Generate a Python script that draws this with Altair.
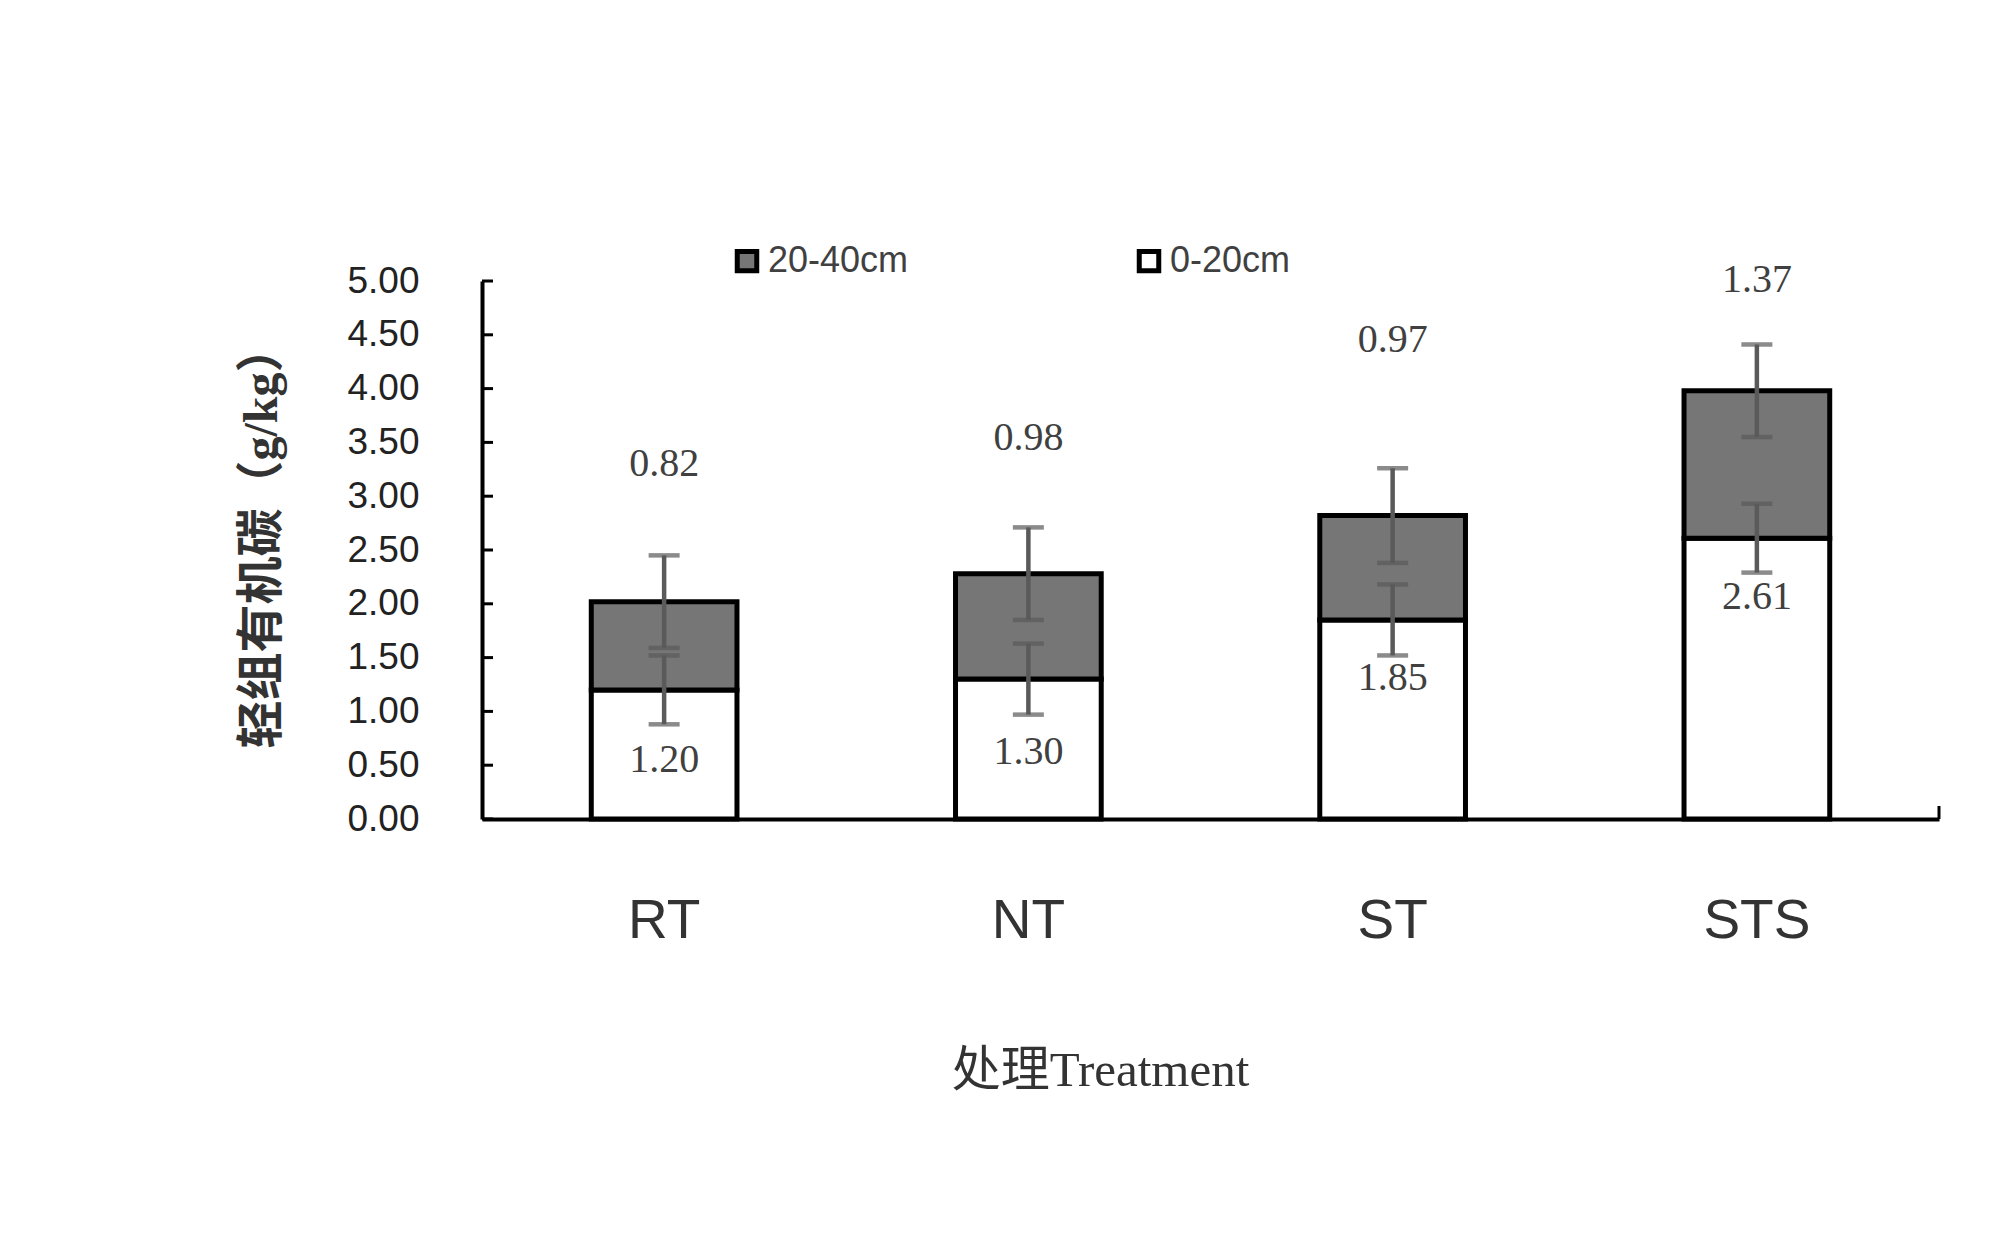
import altair as alt
import pandas as pd

# ---- data ----
categories = ["RT", "NT", "ST", "STS"]
series = ["20-40cm", "0-20cm"]
v_0_20 = [1.20, 1.30, 1.85, 2.61]
v_20_40 = [0.82, 0.98, 0.97, 1.37]
err_0_20 = [0.32, 0.33, 0.33, 0.32]
err_20_40 = [0.43, 0.43, 0.44, 0.43]
label_top_y = [3.30, 3.54, 4.45, 5.01]     # where the 20-40cm value labels sit
label_bottom_y = [0.55, 0.62, 1.31, 2.06]  # where the 0-20cm value labels sit
y_ticks = [0.0, 0.5, 1.0, 1.5, 2.0, 2.5, 3.0, 3.5, 4.0, 4.5, 5.0]

W, H = 1457, 538

# ---- tables ----
bar_rows = []
for c, a, b in zip(categories, v_0_20, v_20_40):
    bar_rows.append({"cat": c, "layer": "0-20cm", "value": a, "ord": 0})
    bar_rows.append({"cat": c, "layer": "20-40cm", "value": b, "ord": 1})
bars_df = pd.DataFrame(bar_rows)

err_rows, cap_rows = [], []
for c, a, b, ea, eb in zip(categories, v_0_20, v_20_40, err_0_20, err_20_40):
    for center, e in ((a, ea), (a + b, eb)):
        err_rows.append({"cat": c, "lo": center - e, "hi": center + e})
        cap_rows.append({"cat": c, "y": center - e})
        cap_rows.append({"cat": c, "y": center + e})
err_df = pd.DataFrame(err_rows)
cap_df = pd.DataFrame(cap_rows)

lab_rows = []
for c, a, b, ty, by in zip(categories, v_0_20, v_20_40, label_top_y, label_bottom_y):
    lab_rows.append({"cat": c, "y": ty, "txt": f"{b:.2f}"})
    lab_rows.append({"cat": c, "y": by, "txt": f"{a:.2f}"})
lab_df = pd.DataFrame(lab_rows)

tick_df = pd.DataFrame({"t": y_ticks})

SANS = "Liberation Sans, Arial, sans-serif"
SERIF_CJK = "Liberation Serif, Noto Sans CJK SC, serif"

xaxis = alt.Axis(
    labelAngle=0, ticks=False, domainColor="black", domainWidth=4,
    labelFont=SANS, labelFontSize=55, labelColor="#333333", labelPadding=75,
    title="处理Treatment", titleFont=SERIF_CJK, titleFontSize=49,
    titleFontWeight="normal", titleColor="#333333",
    titleX=618, titleY=266, titleBaseline="alphabetic", titleAlign="center",
)
yaxis = alt.Axis(
    values=y_ticks, format=".2f", ticks=False, grid=False,
    domainColor="black", domainWidth=4,
    labelFont=SANS, labelFontSize=37, labelColor="#222222", labelPadding=63,
    title="轻组有机碳（g/kg）", titleFont=SERIF_CJK, titleFontSize=48,
    titleFontWeight="bold", titleColor="#333333", titleAngle=270,
    titleX=-220, titleY=255, titleAlign="center", titleBaseline="middle",
)
xscale = alt.Scale(domain=categories, paddingInner=0.6, paddingOuter=0.3)
yscale = alt.Scale(domain=[0, 5], nice=False, zero=True)

X = alt.X("cat:N", sort=categories, scale=xscale, axis=xaxis)

legend = alt.Legend(
    title=None, orient="none", legendX=247, legendY=-38, direction="horizontal",
    symbolType="square", symbolSize=380, symbolStrokeWidth=5,
    symbolStrokeColor="black", labelFont=SANS, labelFontSize=36,
    labelColor="#404040", columnPadding=220, padding=0, labelOffset=3,
)

bars = alt.Chart(bars_df).mark_bar(stroke="black", strokeWidth=5).encode(
    x=X,
    y=alt.Y("value:Q", stack="zero", scale=yscale, axis=yaxis),
    fill=alt.Fill("layer:N", scale=alt.Scale(domain=series, range=["#767676", "#ffffff"]),
                  legend=legend),
    order=alt.Order("ord:Q"),
)

rules = alt.Chart(err_df).mark_rule(color="#5a5a5a", strokeWidth=4.5).encode(
    x=X, y=alt.Y("lo:Q", scale=yscale, axis=yaxis), y2="hi:Q",
)

caps = alt.Chart(cap_df).mark_tick(color="#5a5a5a", thickness=4.5, size=31).encode(
    x=X, y=alt.Y("y:Q", scale=yscale, axis=yaxis),
)

labels = alt.Chart(lab_df).mark_text(
    font="Liberation Serif, serif", fontSize=40, color="#404040", baseline="middle"
).encode(
    x=X, y=alt.Y("y:Q", scale=yscale, axis=yaxis), text="txt:N",
)

yticks = alt.Chart(tick_df).mark_rule(color="black", strokeWidth=3).encode(
    y=alt.Y("t:Q", scale=yscale, axis=yaxis), x=alt.value(0), x2=alt.value(11),
)

end_tick = alt.Chart(pd.DataFrame({"t": [0.0]})).mark_rule(color="black", strokeWidth=3).encode(
    y=alt.Y("t:Q", scale=yscale, axis=yaxis), y2=alt.value(H - 13), x=alt.value(W),
)

chart = alt.layer(bars, rules, caps, labels, yticks, end_tick).properties(
    width=W, height=H,
    autosize=alt.AutoSizeParams(type="none"),
    padding={"left": 474, "top": 273, "right": 40, "bottom": 400},
    background="white",
).configure_view(stroke=None)

chart.save("out.html", embed_options={"renderer": "svg", "actions": False})
